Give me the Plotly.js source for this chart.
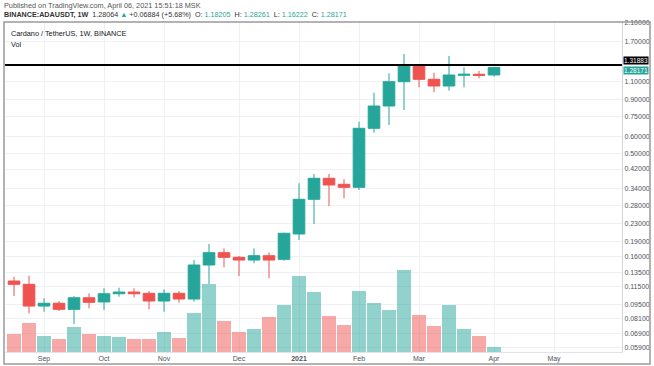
<!DOCTYPE html>
<html>
<head>
<meta charset="utf-8">
<script src="https://cdn.plot.ly/plotly-3.0.1.min.js"></script>
<style>
  html, body { margin: 0; padding: 0; background: #ffffff; }
  #chart { width: 654px; height: 366px; }
</style>
</head>
<body>
<div id="chart"></div>
<script>
// ---- data (weekly ADA/USDT candles) ----
const dates = ['2020-08-24','2020-08-31','2020-09-07','2020-09-14','2020-09-21','2020-09-28',
  '2020-10-05','2020-10-12','2020-10-19','2020-10-26','2020-11-02','2020-11-09','2020-11-16',
  '2020-11-23','2020-11-30','2020-12-07','2020-12-14','2020-12-21','2020-12-28','2021-01-04',
  '2021-01-11','2021-01-18','2021-01-25','2021-02-01','2021-02-08','2021-02-15','2021-02-22',
  '2021-03-01','2021-03-08','2021-03-15','2021-03-22','2021-03-29','2021-04-05'];
const openP  = [0.1225,0.1181,0.0930,0.0959,0.0897,0.1019,0.0973,0.1065,0.1085,0.1070,0.0983,0.1070,0.1005,
  0.1461,0.1673,0.1590,0.1543,0.1618,0.1555,0.2055,0.3010,0.3792,0.3550,0.3434,0.6573,0.8400,1.0974,
  1.3188,1.1268,1.0467,1.1775,1.1905,1.1820];
const highP  = [0.1284,0.1299,0.1013,0.0983,0.1038,0.1070,0.1131,0.1138,0.1131,0.1098,0.1118,0.1098,0.1543,
  0.1841,0.1755,0.1613,0.1755,0.1680,0.2084,0.3589,0.3976,0.3976,0.3750,0.7068,0.9723,1.2037,1.4884,
  1.3250,1.2116,1.4560,1.2858,1.2345,1.2826];
const lowP   = [0.1038,0.0859,0.0874,0.0881,0.0763,0.0907,0.0891,0.1031,0.1024,0.0897,0.0874,0.0965,0.0976,
  0.1185,0.1424,0.1294,0.1489,0.1262,0.1532,0.1923,0.2293,0.2796,0.3043,0.3334,0.6262,0.6815,0.8038,
  1.0319,0.9766,0.9940,1.0319,1.1393,1.1622];
const closeP = [0.1181,0.0930,0.0959,0.0897,0.1019,0.0969,0.1065,0.1085,0.1065,0.0983,0.1070,0.1005,0.1461,
  0.1673,0.1590,0.1543,0.1618,0.1543,0.2071,0.3010,0.3792,0.3522,0.3434,0.6573,0.8400,1.0974,1.3188,
  1.1268,1.0467,1.1814,1.1905,1.1775,1.2817];
// volume (relative units, millions)
const volume = [1770,2940,1640,1300,2500,1770,1640,1540,1300,1300,2040,1440,3940,6770,3140,1970,2340,
  3540,4740,7620,6020,3650,2740,6120,4900,4200,8240,3670,2570,4670,2340,1570,500];

const monthTickDates = ['2020-09-07','2020-10-05','2020-11-02','2020-12-07','2021-01-04','2021-02-01','2021-03-01','2021-04-05','2021-05-03'];
const monthTickText  = ['Sep','Oct','Nov','Dec','<b>2021</b>','Feb','Mar','Apr','May'];
const priceTicks = [2.1,1.7,1.1,0.9,0.75,0.6,0.5,0.42,0.34,0.28,0.23,0.19,0.16,0.135,0.115,0.095,0.081,0.069,0.059];
const priceTickText = ['2.10000','1.70000','1.10000','0.90000','0.75000','0.60000','0.50000','0.42000','0.34000',
  '0.28000','0.23000','0.19000','0.16000','0.13500','0.11500','0.09500','0.08100','0.06900','0.05900'];
const hLineLevel = 1.31883;
const lastPriceLabel = '1.28171';

// ---- styling ----
const UP = '#26a69a', DOWN = '#ef5350';
const UP_VOL = 'rgba(38,166,154,0.5)', DOWN_VOL = 'rgba(239,83,80,0.5)';
const FONT = 'Liberation Sans, Arial, sans-serif';
const xRange = ['2020-08-19 19:00', '2021-06-03 17:30'];
const yLogRange = [-1.2510, 0.3256];
const volColors = closeP.map((c, i) => c >= openP[i] ? UP_VOL : DOWN_VOL);

const PL = 5, PR = 622, PT = 22, PB = 352;
const pw = PR - PL, ph = PB - PT;
const px = x => (x - PL) / pw;
const py = y => (PB - y) / ph;

const traces = [
  {
    type: 'bar', x: dates, y: volume, xaxis: 'x', yaxis: 'y',
    marker: { color: volColors, line: { width: 0 } },
    width: 7 * 86400000 * 0.91, hoverinfo: 'skip', showlegend: false
  },
  {
    type: 'candlestick', x: dates, open: openP, high: highP, low: lowP, close: closeP,
    xaxis: 'x', yaxis: 'y2',
    increasing: { line: { color: UP, width: 1 }, fillcolor: UP },
    decreasing: { line: { color: DOWN, width: 1 }, fillcolor: DOWN },
    whiskerwidth: 0, showlegend: false, hoverinfo: 'skip'
  },
  {
    type: 'scatter', mode: 'lines', x: xRange, y: [hLineLevel, hLineLevel],
    xaxis: 'x', yaxis: 'y2', line: { color: '#000000', width: 2 },
    hoverinfo: 'skip', showlegend: false
  }
];

const annotations = [
  { text: 'Published on TradingView.com, April 06, 2021 15:51:18 MSK', xref: 'paper', yref: 'paper',
    x: px(2), y: py(5), xanchor: 'left', yanchor: 'middle', showarrow: false,
    font: { family: FONT, size: 7.3, color: '#555555' } },
  { text: '<b>BINANCE:ADAUSDT, 1W</b>  1.28064 <span style="color:#26a69a">▲</span> +0.06884 (+5.68%)  O: <span style="color:#26a69a">1.18205</span>  H: <span style="color:#26a69a">1.28261</span>  L: <span style="color:#26a69a">1.16222</span>  C: <span style="color:#26a69a">' + lastPriceLabel + '</span>',
    xref: 'paper', yref: 'paper', x: px(2), y: py(14), xanchor: 'left', yanchor: 'middle', showarrow: false,
    font: { family: FONT, size: 7.2, color: '#333333' } },
  { text: 'Cardano / TetherUS, 1W, BINANCE', xref: 'paper', yref: 'paper',
    x: px(9), y: py(33), xanchor: 'left', yanchor: 'middle', showarrow: false,
    font: { family: FONT, size: 7.3, color: '#131722' } },
  { text: 'Vol', xref: 'paper', yref: 'paper',
    x: px(9), y: py(44), xanchor: 'left', yanchor: 'middle', showarrow: false,
    font: { family: FONT, size: 7.3, color: '#131722' } },
  { text: hLineLevel.toFixed(5), xref: 'paper', yref: 'paper',
    x: px(623), y: py(61), xanchor: 'left', yanchor: 'middle', showarrow: false,
    bgcolor: '#000000', borderpad: 0, font: { family: FONT, size: 6.5, color: '#ffffff' } },
  { text: lastPriceLabel, xref: 'paper', yref: 'paper',
    x: px(623), y: py(70), xanchor: 'left', yanchor: 'middle', showarrow: false,
    bgcolor: UP, borderpad: 0, font: { family: FONT, size: 6.5, color: '#ffffff' } }
];

const shapes = [
  { type: 'rect', xref: 'paper', yref: 'paper', x0: px(4), x1: px(650), y0: py(364), y1: py(22),
    line: { color: '#9a9a9a', width: 1.5 }, fillcolor: 'rgba(0,0,0,0)', layer: 'above' }
];

const layout = {
  width: 654, height: 366,
  margin: { l: PL, r: 654 - PR, t: PT, b: 366 - PB, pad: 0 },
  paper_bgcolor: '#ffffff', plot_bgcolor: '#ffffff',
  showlegend: false,
  boxgap: 0.12, boxgroupgap: 0.12,
  bargap: 0,
  font: { family: FONT, size: 7, color: '#50535e' },
  xaxis: {
    type: 'date', range: xRange, rangeslider: { visible: false },
    tickmode: 'array', tickvals: monthTickDates, ticktext: monthTickText,
    showgrid: true, gridcolor: '#eef0f5', gridwidth: 1,
    showline: true, linecolor: '#e0e3eb', linewidth: 1,
    ticks: '', tickfont: { family: FONT, size: 7, color: '#50535e' },
    zeroline: false, fixedrange: true
  },
  yaxis: {
    range: [0, 33000], visible: false, showgrid: false, zeroline: false, fixedrange: true
  },
  yaxis2: {
    type: 'log', range: yLogRange, overlaying: 'y', side: 'right',
    tickmode: 'array', tickvals: priceTicks, ticktext: priceTickText,
    showgrid: true, gridcolor: '#eef0f5', gridwidth: 1,
    showline: true, linecolor: '#d1d4dc', linewidth: 1,
    ticks: '', tickfont: { family: FONT, size: 7, color: '#50535e' },
    zeroline: false, fixedrange: true
  },
  annotations: annotations,
  shapes: shapes
};

Plotly.newPlot('chart', traces, layout, { displayModeBar: false, staticPlot: true });
</script>
</body>
</html>
